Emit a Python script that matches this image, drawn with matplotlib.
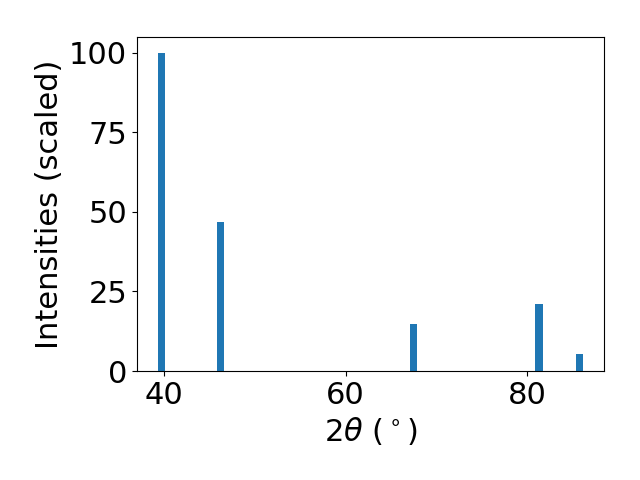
import matplotlib
matplotlib.use("Agg")
import matplotlib.pyplot as plt

# Pt-like diffraction peaks
two_theta = [39.76, 46.24, 67.45, 81.28, 85.71]
intensities = [100.0, 46.9, 14.8, 21.1, 5.3]

plt.rcParams["font.size"] = 22

fig, ax = plt.subplots(figsize=(6.4, 4.8), dpi=100)
ax.bar(two_theta, intensities)
ax.set_xlabel(r"2$\theta$ ($^\circ$)")
ax.set_ylabel("Intensities (scaled)")
ax.set_yticks([0, 25, 50, 75, 100])
fig.subplots_adjust(left=0.214, right=0.944, top=0.923, bottom=0.227)
fig.savefig("out.png")
